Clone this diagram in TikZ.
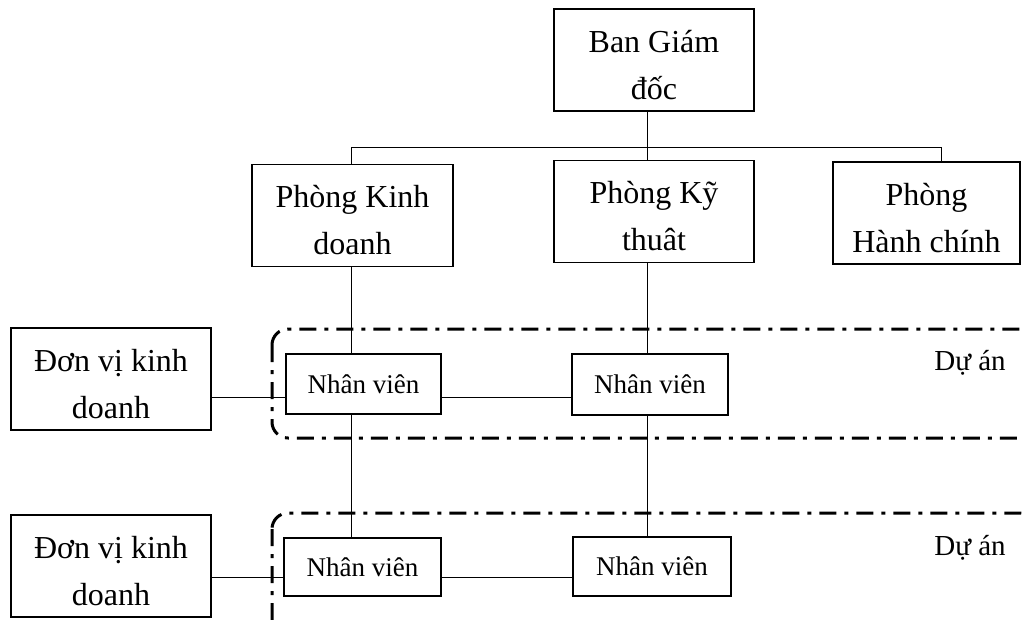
\documentclass[tikz,border=0pt]{standalone}
\usepackage{fontspec}
\setmainfont{Liberation Serif}

\begin{document}
\begin{tikzpicture}[x=1pt,y=-1pt,
    bigbox/.style={draw,line width=1.8pt,align=center,inner sep=0pt,
      font=\fontsize{32}{47}\selectfont,
      text height=90pt,text depth=12pt},
    staffbox/.style={draw,line width=1.2pt,inner sep=0pt,
      minimum height=60pt,font=\fontsize{27}{32}\selectfont},
    link/.style={line width=0.9pt},
    project/.style={line width=3pt,rounded corners=16pt,
      dash pattern=on 17pt off 8pt on 4pt off 8pt}]
    \useasboundingbox (0,0) rectangle (1022,619);
    \clip (0,0) rectangle (1022,619);

    % project groups
    \draw[project] (272,329) rectangle (1036,438);
    \draw[project] (272,513) rectangle (1036,660);
    \node[font=\fontsize{29}{32}\selectfont] (du1) at (970,363) {Dự án};
    \node[font=\fontsize{29}{32}\selectfont] (du2) at (970,548) {Dự án};

    \node[bigbox,minimum width=200pt,minimum height=100pt] (bgd) at (654,60) {Ban Giám\\đốc};
    \node[bigbox,minimum width=201pt,minimum height=101pt] (kd) at (352.5,215.5) {Phòng Kinh\\doanh};
    \node[bigbox,minimum width=200pt,minimum height=99pt] (kt) at (654,211.5) {Phòng Kỹ\\thuât};
    \node[bigbox,minimum width=187pt,minimum height=100pt] (hc) at (926.5,213) {Phòng\\Hành chính};

    \node[bigbox,minimum width=200pt,minimum height=100pt] (dv1) at (111,379) {Đơn vị kinh\\doanh};
    \node[bigbox,minimum width=200pt,minimum height=100pt] (dv2) at (111,566) {Đơn vị kinh\\doanh};

    \node[staffbox,minimum width=155pt] (nv1) at (363.5,384) {Nhân viên};
    \node[staffbox,minimum width=156pt,minimum height=61pt] (nvk1) at (650,384.5) {Nhân viên};
    \node[staffbox,minimum width=157pt,minimum height=58pt] (nv2) at (362.5,567) {Nhân viên};
    \node[staffbox,minimum width=158pt,minimum height=59pt] (nvk2) at (652,566.5) {Nhân viên};

    % tree lines
    \coordinate (busL) at (351,147);
    \coordinate (busM) at (647,147);
    \coordinate (busR) at (941,147);
    \coordinate (row1) at (0,397);
    \coordinate (row2) at (0,577);

    \draw[link] (busL) -- (busR);
    \draw[link] (bgd.south -| busM) -- (kt.north -| busM);
    \draw[link] (busL) -- (busL |- kd.north);
    \draw[link] (busR) -- (busR |- hc.north);

    \draw[link] (kd.south -| busL) -- (nv1.north -| busL);
    \draw[link] (nv1.south -| busL) -- (nv2.north -| busL);
    \draw[link] (kt.south -| busM) -- (nvk1.north -| busM);
    \draw[link] (nvk1.south -| busM) -- (nvk2.north -| busM);

    \draw[link] (dv1.east |- row1) -- (nv1.west |- row1);
    \draw[link] (nv1.east |- row1) -- (nvk1.west |- row1);
    \draw[link] (dv2.east |- row2) -- (nv2.west |- row2);
    \draw[link] (nv2.east |- row2) -- (nvk2.west |- row2);
\end{tikzpicture}
\end{document}
